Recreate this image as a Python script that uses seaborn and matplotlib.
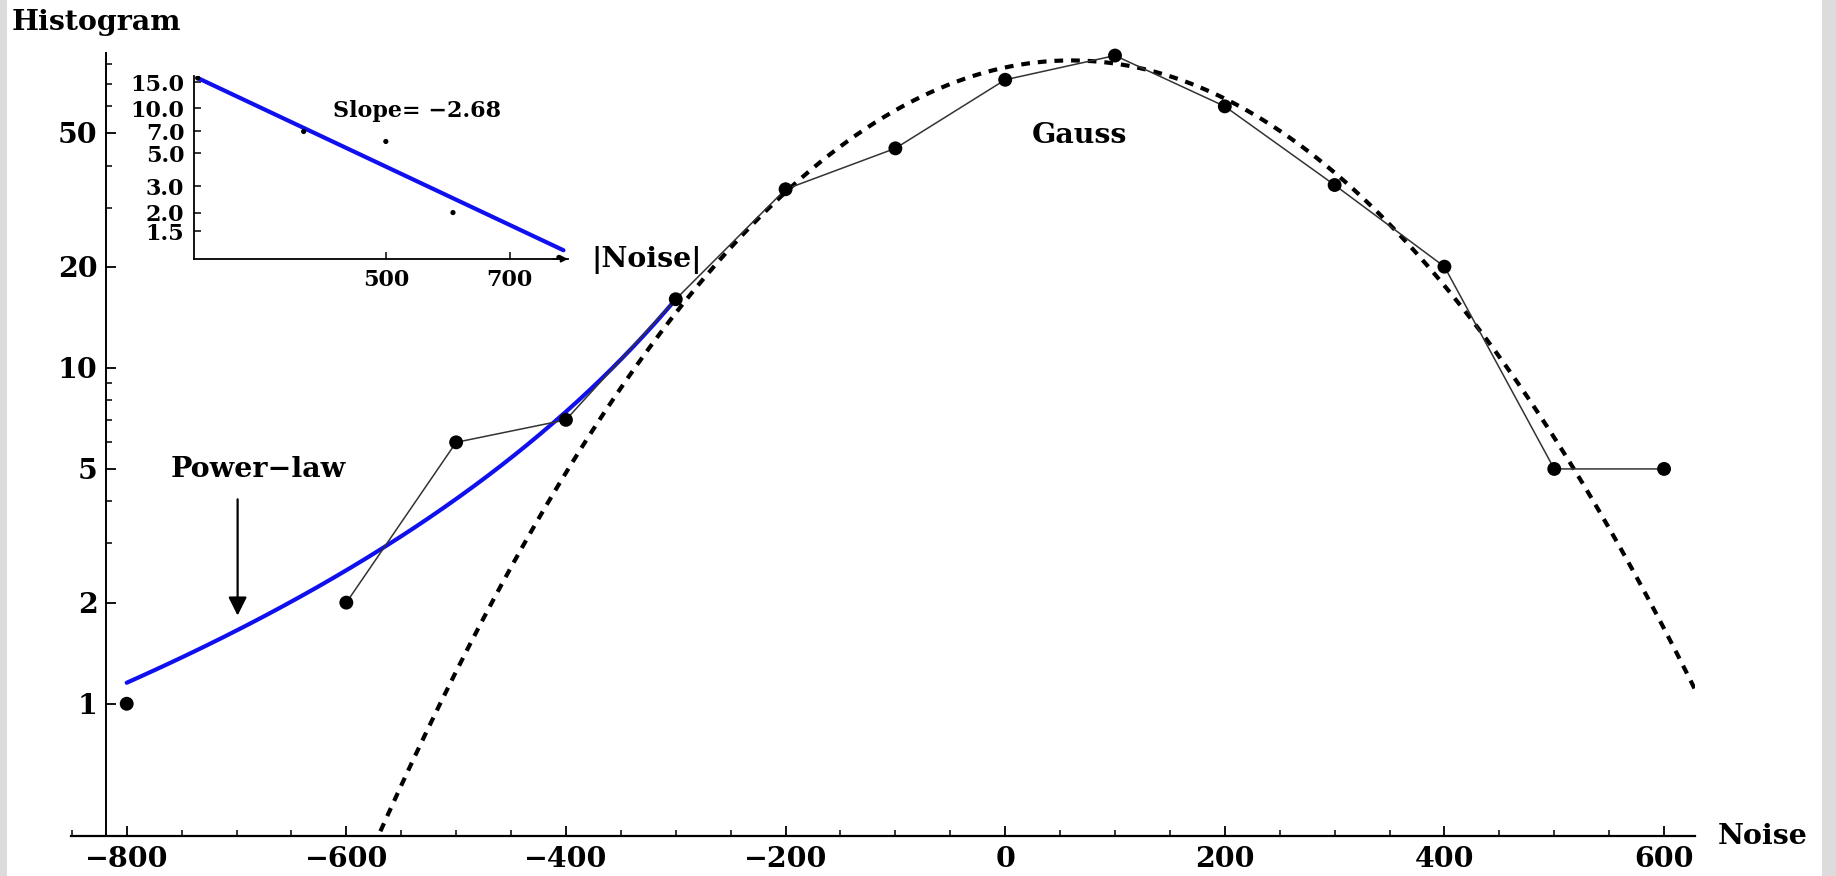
import numpy as np
import pandas as pd
import matplotlib
matplotlib.use("Agg")
import matplotlib.pyplot as plt
import seaborn as sns
from matplotlib.ticker import FixedLocator, NullFormatter, FixedFormatter
from matplotlib.patches import Rectangle

# ---------------- data ----------------
noise = [-800, -700, -600, -500, -400, -300, -200, -100, 0, 100, 200, 300, 400, 500, 600]
counts = [1, 0, 2, 6, 7, 16, 34, 45, 72, 85, 60, 35, 20, 5, 5]

# Gaussian fit parameters
gauss_amp = 82.2
gauss_mu = 60.0
gauss_sigma = 193.5
gauss_range = [-600, 632]

# power-law fit parameters (|Noise|)
power_amp = 16.0
power_x0 = 300.0
power_slope = -2.68
power_range = [300, 800]
inset_range = [300, 810]

x_ticks = [-800, -600, -400, -200, 0, 200, 400, 600]
y_ticks = [1, 2, 5, 10, 20, 50]
y_minor = [3, 4, 6, 7, 8, 9, 30, 40, 60, 70, 80]
inset_x_ticks = [500, 700]
inset_y_ticks = [1.5, 2.0, 3.0, 5.0, 7.0, 10.0, 15.0]

# ---------------- style ----------------
sns.set_style("ticks")
plt.rcParams['font.family'] = ['DejaVu Serif', 'Liberation Serif']
plt.rcParams['font.weight'] = 'bold'
plt.rcParams['axes.linewidth'] = 1.4
for key in ['text.color', 'axes.labelcolor', 'axes.edgecolor',
            'xtick.color', 'ytick.color']:
    plt.rcParams[key] = 'black'

MAIN_FS = 20.5
INSET_FS = 16

W, H = 1836, 876
fig = plt.figure(figsize=(W / 100, H / 100), dpi=100)
fig.patch.set_facecolor('white')
fig.patches.append(Rectangle((0, 0), 7 / W, 1, transform=fig.transFigure,
                             facecolor='#dcdcdc', edgecolor='none', zorder=-10))
fig.patches.append(Rectangle((1822 / W, 0), 14 / W, 1, transform=fig.transFigure,
                             facecolor='#dcdcdc', edgecolor='none', zorder=-10))

def px_box(left, top, right, bottom):
    return [left / W, 1 - bottom / H, (right - left) / W, (bottom - top) / H]

ax = fig.add_axes(px_box(71.25, 53, 1694.8, 836))
ax.set_facecolor('none')

df = pd.DataFrame({'noise': noise, 'count': counts})

# gaussian fit
gx = np.linspace(gauss_range[0], gauss_range[1], 600)
gy = gauss_amp * np.exp(-(gx - gauss_mu) ** 2 / (2 * gauss_sigma ** 2))
sns.lineplot(x=gx, y=gy, ax=ax, color='black', lw=3.0,
             linestyle=(0, (2.1, 1.9)), estimator=None, sort=False, zorder=3)

# power law (negative side)
px_ = np.linspace(power_range[0], power_range[1], 300)
py_ = power_amp * (px_ / power_x0) ** power_slope
sns.lineplot(x=-px_, y=py_, ax=ax, color='#1010ee', lw=3.0,
             estimator=None, sort=False, zorder=4)

# data (a zero bin breaks the joined line on the log axis)
sns.lineplot(data=df, x='noise', y='count', ax=ax, color='#333333', lw=1.1,
             estimator=None, sort=False, zorder=5)
sns.scatterplot(data=df, x='noise', y='count', ax=ax, color='black', s=100,
                edgecolor='none', zorder=6, clip_on=False)

ax.set_yscale('log', nonpositive='mask')
ax.set_xlim(-850.5, 628)
ax.set_ylim(0.404, 86.5)
ax.set_xlabel('')
ax.set_ylabel('')

for s in ['top', 'right']:
    ax.spines[s].set_visible(False)
ax.spines['left'].set_position(('data', -818.9))
ax.spines['left'].set_linewidth(1.4)
ax.spines['bottom'].set_linewidth(1.6)
ax.spines['left'].set_color('black')
ax.spines['bottom'].set_color('black')

ax.xaxis.set_major_locator(FixedLocator(x_ticks))
ax.xaxis.set_major_formatter(FixedFormatter([str(v).replace('-', '\u2212') for v in x_ticks]))
ax.xaxis.set_minor_locator(FixedLocator([v for v in range(-850, 601, 50) if v not in x_ticks]))
ax.yaxis.set_major_locator(FixedLocator(y_ticks))
ax.yaxis.set_major_formatter(FixedFormatter([str(v) for v in y_ticks]))
ax.yaxis.set_minor_locator(FixedLocator(y_minor))
ax.yaxis.set_minor_formatter(NullFormatter())

ax.tick_params(axis='both', which='major', direction='in', length=7, width=1.3,
               labelsize=MAIN_FS, colors='black')
ax.tick_params(axis='both', which='minor', direction='in', length=4, width=1.1,
               colors='black')
ax.tick_params(axis='x', which='major', pad=7)
ax.tick_params(axis='y', which='major', pad=6)
for lab in ax.get_xticklabels() + ax.get_yticklabels():
    lab.set_fontweight('bold')

# annotations
ax.text(68, 49, 'Gauss', ha='center', va='center', fontsize=MAIN_FS,
        fontweight='bold', color='black')
ax.text(-680, 4.98, 'Power\u2212law', ha='center', va='center', fontsize=MAIN_FS,
        fontweight='bold', color='black')
ax.annotate('', xy=(-699, 1.83), xytext=(-699, 4.06),
            arrowprops=dict(arrowstyle='-|>', color='black', lw=1.6,
                            mutation_scale=28, shrinkA=0, shrinkB=0))

fig.text(12 / W, 1 - 23 / H, 'Histogram', ha='left', va='center',
         fontsize=MAIN_FS, fontweight='bold', color='black')
fig.text(1718 / W, 1 - 836 / H, 'Noise', ha='left', va='center',
         fontsize=MAIN_FS, fontweight='bold', color='black')

# ---------------- inset ----------------
ax_in = fig.add_axes(px_box(194, 76, 568, 259))
ax_in.set_facecolor('none')
neg = df[df['noise'] <= -300].copy()
neg['absnoise'] = -neg['noise']
ix = np.linspace(inset_range[0], inset_range[1], 200)
iy = power_amp * (ix / power_x0) ** power_slope
sns.lineplot(x=ix, y=iy, ax=ax_in, color='#1010ee', lw=3.0,
             estimator=None, sort=False, zorder=3)
sns.scatterplot(data=neg, x='absnoise', y='count', ax=ax_in, color='black', s=14,
                edgecolor='none', zorder=4)
ax_in.set_xscale('log')
ax_in.set_yscale('log', nonpositive='mask')
ax_in.set_xlim(297, 820)
ax_in.set_ylim(0.976, 16.5)
ax_in.set_xlabel('')
ax_in.set_ylabel('')
for s in ['top', 'right']:
    ax_in.spines[s].set_visible(False)
ax_in.spines['left'].set_linewidth(1.3)
ax_in.spines['bottom'].set_linewidth(1.3)
ax_in.spines['left'].set_color('black')
ax_in.spines['bottom'].set_color('black')
ax_in.xaxis.set_major_locator(FixedLocator(inset_x_ticks))
ax_in.xaxis.set_major_formatter(FixedFormatter([str(v) for v in inset_x_ticks]))
ax_in.xaxis.set_minor_locator(FixedLocator([]))
ax_in.xaxis.set_minor_formatter(NullFormatter())
ax_in.yaxis.set_major_locator(FixedLocator(inset_y_ticks))
ax_in.yaxis.set_major_formatter(FixedFormatter(['%.1f' % v for v in inset_y_ticks]))
ax_in.yaxis.set_minor_locator(FixedLocator([]))
ax_in.yaxis.set_minor_formatter(NullFormatter())
ax_in.tick_params(axis='both', which='major', direction='in', length=5, width=1.1,
                  labelsize=INSET_FS, colors='black')
ax_in.tick_params(axis='x', pad=7)
ax_in.tick_params(axis='y', pad=7)
for lab in ax_in.get_xticklabels() + ax_in.get_yticklabels():
    lab.set_fontweight('bold')
ax_in.annotate('', xy=(1.0, 0), xytext=(0.96, 0), xycoords='axes fraction',
               arrowprops=dict(arrowstyle='-|>', color='black', lw=1.2,
                               mutation_scale=10, shrinkA=0, shrinkB=0))

fig.text(417 / W, 1 - 111 / H, 'Slope= \u22122.68', ha='center', va='center',
         fontsize=INSET_FS, fontweight='bold', color='black')
fig.text(591 / W, 1 - 260 / H, '|Noise|', ha='left', va='center',
         fontsize=MAIN_FS, fontweight='bold', color='black')

fig.savefig('out.png', dpi=100, facecolor=fig.get_facecolor())
